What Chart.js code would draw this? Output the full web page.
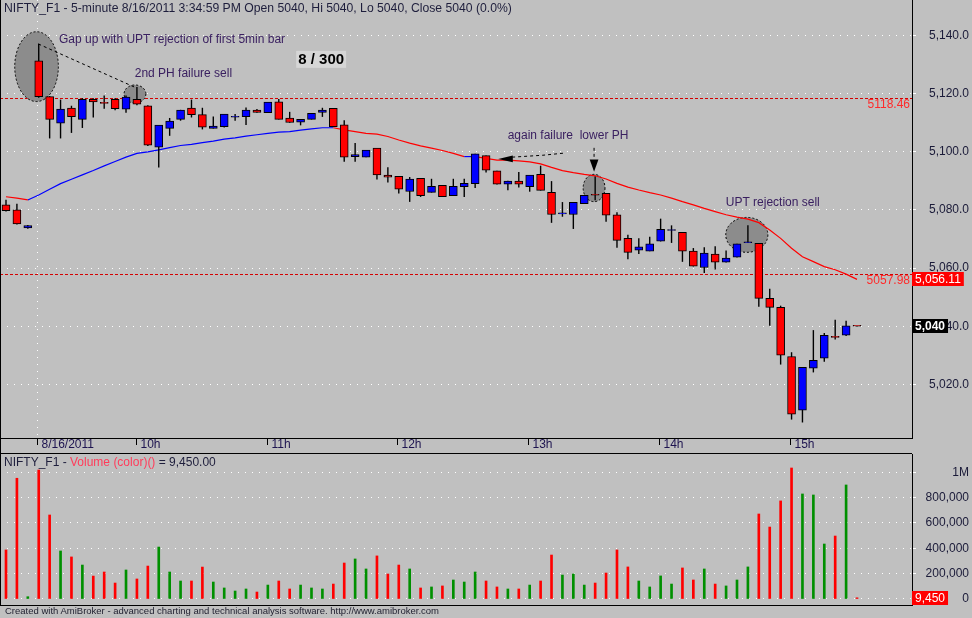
<!DOCTYPE html>
<html>
<head>
<meta charset="utf-8">
<title>NIFTY_F1 5-minute</title>
<script src="https://cdn.jsdelivr.net/npm/chart.js@4.4.1/dist/chart.umd.min.js"></script>
<style>
  html, body { margin:0; padding:0; }
  body { width:972px; height:618px; background:#c0c0c0; position:relative; overflow:hidden;
         font-family:"Liberation Sans", Arial, sans-serif; }
  canvas { position:absolute; left:0; display:block; }
  #priceCanvas { top:0; }
  #volCanvas { top:454px; }
  .txt { position:absolute; white-space:nowrap; font-size:12px; line-height:14px; color:#1e1e3c; }
  #title { left:4px; top:1px; font-size:12.2px; }
  #volTitle { left:4px; top:455px; }
  #volTitle .r { color:#ff3c5a; }
  #footer { left:5px; top:605px; font-size:9.5px; line-height:12px; color:#1e1e2e; }
</style>
</head>
<body>
<canvas id="priceCanvas" width="972" height="454"></canvas>
<canvas id="volCanvas" width="972" height="152"></canvas>
<div id="title" class="txt">NIFTY_F1 - 5-minute 8/16/2011 3:34:59 PM Open 5040, Hi 5040, Lo 5040, Close 5040 (0.0%)</div>
<div id="volTitle" class="txt">NIFTY_F1 - <span class="r">Volume (color)()</span> = 9,450.00</div>
<div id="footer" class="txt">Created with AmiBroker - advanced charting and technical analysis software. http://www.amibroker.com</div>
<script>
// ---------- DATA ----------
const times = ["8/12 15:15","8/12 15:20","8/12 15:25",
  "09:15","09:20","09:25","09:30","09:35","09:40","09:45","09:50","09:55",
  "10:00","10:05","10:10","10:15","10:20","10:25","10:30","10:35","10:40","10:45","10:50","10:55",
  "11:00","11:05","11:10","11:15","11:20","11:25","11:30","11:35","11:40","11:45","11:50","11:55",
  "12:00","12:05","12:10","12:15","12:20","12:25","12:30","12:35","12:40","12:45","12:50","12:55",
  "13:00","13:05","13:10","13:15","13:20","13:25","13:30","13:35","13:40","13:45","13:50","13:55",
  "14:00","14:05","14:10","14:15","14:20","14:25","14:30","14:35","14:40","14:45","14:50","14:55",
  "15:00","15:05","15:10","15:15","15:20","15:25","15:30"];

const opens = [5081.7,5080.0,5073.8,5131.2,5118.9,5109.8,5115.0,5111.1,5118.0,5116.7,
  5118.0,5114.6,5118.0,5115.7,5101.5,5108.0,5111.1,5115.0,5112.7,5108.0,
  5108.6,5111.8,5112.0,5114.3,5113.4,5117.1,5111.5,5110.1,5111.1,5113.5,
  5114.9,5109.2,5098.3,5098.1,5101.2,5091.9,5091.5,5086.3,5090.8,5086.0,
  5088.4,5084.9,5088.0,5089.0,5098.6,5093.4,5088.8,5089.9,5088.0,5092.2,
  5086.0,5078.6,5078.4,5082.1,5085.1,5085.7,5078.3,5070.2,5066.1,5065.8,
  5069.2,5072.9,5072.3,5065.8,5060.2,5064.8,5062.0,5063.7,5068.7,5068.5,
  5049.6,5046.5,5029.6,5011.2,5025.6,5029.0,5036.3,5036.9,5040.0];
const highs = [5083.4,5082.0,5074.7,5137.0,5119.0,5117.8,5115.7,5118.3,5118.3,5119.2,
  5118.3,5119.2,5122.1,5115.9,5109.1,5111.5,5114.3,5117.8,5115.0,5112.0,
  5112.9,5112.9,5115.1,5114.6,5117.0,5118.0,5113.6,5111.1,5113.2,5115.0,
  5114.9,5110.7,5102.9,5100.5,5101.2,5094.6,5091.5,5091.2,5090.8,5090.6,
  5088.4,5090.6,5090.6,5099.2,5098.6,5093.4,5089.9,5092.9,5091.9,5095.1,
  5089.8,5082.6,5082.6,5085.0,5091.4,5085.7,5079.1,5071.4,5070.2,5070.7,
  5076.9,5074.6,5072.3,5066.8,5067.1,5067.4,5066.0,5068.3,5074.6,5068.5,
  5052.8,5047.0,5031.0,5025.9,5038.6,5037.6,5042.2,5041.8,5040.0];
const lows = [5079.5,5075.0,5073.6,5118.6,5104.6,5104.6,5106.5,5108.2,5111.8,5114.8,
  5114.3,5113.4,5116.0,5102.0,5094.6,5105.5,5110.7,5111.8,5107.7,5108.0,
  5108.4,5110.7,5109.2,5113.4,5113.4,5111.1,5110.0,5109.1,5111.1,5112.0,
  5108.6,5096.6,5096.6,5098.1,5090.5,5089.5,5085.7,5082.8,5084.5,5086.0,
  5084.5,5084.9,5084.5,5087.6,5092.9,5088.8,5086.8,5087.7,5086.3,5086.7,
  5075.6,5077.7,5073.5,5082.1,5083.4,5076.0,5067.0,5063.1,5064.9,5065.8,
  5069.2,5068.7,5062.2,5060.6,5058.4,5059.6,5062.0,5063.7,5068.7,5046.8,
  5040.2,5026.9,5008.0,5007.0,5024.2,5027.9,5035.5,5036.7,5040.0];
const closes = [5079.7,5075.2,5074.6,5118.9,5111.1,5114.6,5112.0,5118.0,5117.1,5116.6,
  5114.8,5118.7,5116.3,5102.2,5109.1,5110.5,5114.3,5112.7,5108.4,5108.8,
  5112.9,5111.9,5114.3,5113.5,5117.0,5111.1,5110.0,5111.1,5113.2,5114.3,
  5108.6,5098.1,5099.0,5100.5,5092.0,5091.2,5087.1,5090.6,5084.9,5088.1,
  5084.5,5088.1,5089.1,5099.2,5093.6,5088.8,5089.9,5088.8,5091.9,5086.7,
  5078.4,5078.7,5082.6,5085.0,5085.0,5078.2,5069.5,5065.4,5067.3,5068.3,
  5073.3,5073.0,5065.8,5060.6,5065.1,5062.0,5063.4,5068.3,5068.8,5049.6,
  5046.5,5030.1,5009.8,5025.9,5028.3,5036.9,5036.2,5040.1,5040.0];
const movingAvg = [5084.5,5084.0,5083.4,5085.1,5087.1,5089.0,5090.5,5092.0,5093.5,5095.1,
  5096.6,5098.1,5099.4,5099.9,5100.6,5101.4,5102.1,5102.5,5103.1,5103.6,
  5104.3,5104.7,5105.3,5105.8,5106.3,5106.7,5106.9,5107.4,5107.8,5108.2,
  5108.2,5107.5,5106.9,5106.3,5106.0,5105.2,5104.0,5102.9,5102.0,5101.2,
  5100.4,5099.4,5098.3,5098.3,5097.7,5097.1,5097.1,5096.8,5096.5,5095.8,
  5094.6,5093.5,5092.8,5092.2,5091.7,5090.6,5089.1,5087.8,5086.8,5085.9,
  5085.1,5084.0,5082.8,5081.7,5080.5,5079.4,5078.3,5077.5,5076.8,5075.6,
  5073.1,5070.2,5066.8,5063.9,5062.2,5060.5,5059.4,5057.9,5056.11];
const volumes = [387000,953000,18000,1018000,663000,379000,332000,268000,181000,213000,
  126000,229000,158000,260000,410000,213000,142000,142000,252000,134000,
  87000,63000,79000,55000,110000,142000,79000,110000,87000,79000,
  118000,284000,316000,237000,340000,197000,268000,237000,87000,95000,
  103000,150000,134000,213000,142000,95000,79000,79000,110000,142000,
  347000,189000,197000,110000,126000,205000,387000,253000,142000,95000,
  182000,118000,245000,150000,237000,118000,103000,150000,253000,671000,
  568000,774000,1034000,829000,821000,434000,497000,900000,9450];

const priceTicks = [5020,5040,5060,5080,5100,5120,5140];
const volumeTicks = [0,200000,400000,600000,800000,1000000];
const timeTickLabels = ["8/16/2011","10h","11h","12h","13h","14h","15h"];
const timeTickAt = ["09:15","10:00","11:00","12:00","13:00","14:00","15:00"];
const refLevels = [5118.46, 5057.98];

// annotations (bar index, price)
const notes = [
  {text:"Gap up with UPT rejection of first 5min bar", i:4.86, p:5138.4},
  {text:"2nd PH failure sell", i:11.8, p:5126.7},
  {text:"again failure  lower PH", i:45.98, p:5105.5},
  {text:"UPT rejection sell", i:65.97, p:5082.5}
];
const counterNote = {text:"8 / 300", i:26.6, p:5131.7};
const ellipses = [
  {i:2.8, p:5129.2, ri:2.0, rp:12.0},
  {i:11.82, p:5119.8, ri:1.0, rp:3.1},
  {i:53.9, p:5087.5, ri:1.0, rp:4.7},
  {i:67.9, p:5071.4, ri:1.93, rp:6.0}
];
const dashedPaths = [
  [[2.96,5137.0],[11.82,5122.1]],
  [[51.05,5099.45],[49.2,5098.76],[46.4,5098.1]],
  [[53.9,5101.3],[53.9,5097.2]]
];
const arrowHeads = [
  {tip:[45.12,5097.5], base:[46.45,5097.5], dir:"h", half:1.15},
  {tip:[53.9,5093.1], base:[53.9,5097.3], dir:"v", half:0.4}
];

// ---------- derived ----------
const N = closes.length;
const up = closes.map((c,i) => c > opens[i]);
const RED = "#ff0000", BLUE = "#0000ff", GREEN = "#009000";
const FONT = '"Liberation Sans", Arial, sans-serif';
Chart.defaults.font.family = FONT;
Chart.defaults.font.size = 12;
Chart.defaults.color = "#1a1a38";

const xRange = {min:-0.55, max:83.04};

function line(ctx, x1, y1, x2, y2){ ctx.beginPath(); ctx.moveTo(x1,y1); ctx.lineTo(x2,y2); ctx.stroke(); }
function valueBox(ctx, x, y, text, bg, bold){
  ctx.font = (bold ? "bold " : "") + "12px " + FONT;
  const w = ctx.measureText(text).width + 6;
  ctx.fillStyle = bg;
  ctx.fillRect(x, Math.round(y) - 7, w, 14);
  ctx.fillStyle = "#ffffff";
  ctx.textAlign = "left"; ctx.textBaseline = "middle";
  ctx.fillText(text, x + 3, Math.round(y) + 0.5);
}

const pricePlugin = {
  id: "priceDecor",
  beforeDatasetsDraw(chart){
    const {ctx, chartArea:a, scales:{x, y}} = chart;
    ctx.save();
    ctx.strokeStyle = "#ffffff"; ctx.lineWidth = 1; ctx.setLineDash([1,6]);
    const sx = Math.round(x.getPixelForValue(times.indexOf("09:15") - 0.16)) + 0.5;
    line(ctx, sx, a.top, sx, a.bottom);
    ctx.strokeStyle = "#d40000"; ctx.setLineDash([3,2]);
    refLevels.forEach(v => { const py = Math.round(y.getPixelForValue(v)) + 0.5; line(ctx, a.left, py, a.right, py); });
    ctx.setLineDash([2,2]); ctx.strokeStyle = "#000"; ctx.fillStyle = "#8c8c8c";
    ellipses.forEach(e => {
      const cx = x.getPixelForValue(e.i), cy = y.getPixelForValue(e.p);
      const rx = x.getPixelForValue(e.i + e.ri) - cx, ry = cy - y.getPixelForValue(e.p + e.rp);
      ctx.beginPath(); ctx.ellipse(cx, cy, rx, ry, 0, 0, Math.PI*2); ctx.fill(); ctx.stroke();
    });
    ctx.restore();
  },
  afterDatasetsDraw(chart){
    const {ctx, chartArea:a, scales:{x, y}} = chart;
    ctx.save();
    ctx.strokeStyle = "#000"; ctx.lineWidth = 1; ctx.setLineDash([3,3]);
    dashedPaths.forEach(pts => {
      ctx.beginPath();
      pts.forEach((p,k) => { const px = x.getPixelForValue(p[0]), py = y.getPixelForValue(p[1]); k ? ctx.lineTo(px,py) : ctx.moveTo(px,py); });
      ctx.stroke();
    });
    ctx.setLineDash([]); ctx.fillStyle = "#000";
    arrowHeads.forEach(h => {
      const tx = x.getPixelForValue(h.tip[0]), ty = y.getPixelForValue(h.tip[1]);
      const bx = x.getPixelForValue(h.base[0]), by = y.getPixelForValue(h.base[1]);
      ctx.beginPath(); ctx.moveTo(tx, ty);
      if (h.dir === "h") {
        const d = y.getPixelForValue(h.base[1] - h.half) - by;
        ctx.lineTo(bx, by - d); ctx.lineTo(bx, by + d);
      } else {
        const d = x.getPixelForValue(h.base[0] + h.half) - bx;
        ctx.lineTo(bx - d, by); ctx.lineTo(bx + d, by);
      }
      ctx.closePath(); ctx.fill();
    });
    ctx.font = "12px " + FONT; ctx.fillStyle = "#3a2060";
    ctx.textAlign = "left"; ctx.textBaseline = "middle";
    notes.forEach(n => ctx.fillText(n.text, x.getPixelForValue(n.i), y.getPixelForValue(n.p)));
    ctx.font = "bold 15px " + FONT;
    const cx = x.getPixelForValue(counterNote.i), cy = y.getPixelForValue(counterNote.p);
    const w = ctx.measureText(counterNote.text).width;
    ctx.fillStyle = "#d6d6d6"; ctx.fillRect(cx, cy - 8.5, w + 4, 17);
    ctx.fillStyle = "#000"; ctx.fillText(counterNote.text, cx + 2, cy + 0.5);
    ctx.restore();
  },
  afterDraw(chart){
    const {ctx, chartArea:a, scales:{x, y}} = chart;
    ctx.save();
    ctx.strokeStyle = "#000"; ctx.lineWidth = 1; ctx.setLineDash([]);
    line(ctx, 0, a.bottom + 0.5, a.right, a.bottom + 0.5);
    line(ctx, 0, chart.height - 0.5, a.right, chart.height - 0.5);
    line(ctx, 0.5, 0, 0.5, chart.height);
    ctx.font = "12px " + FONT; ctx.fillStyle = "#1e1450";
    ctx.textAlign = "left"; ctx.textBaseline = "middle";
    timeTickAt.forEach((t,k) => {
      const px = Math.round(x.getPixelForValue(times.indexOf(t) - 0.12)) + 0.5;
      line(ctx, px, a.bottom + 1, px, a.bottom + 7);
      ctx.fillText(timeTickLabels[k], px + 4, a.bottom + 7);
    });
    ctx.fillStyle = "#ff2a2a"; ctx.textAlign = "right";
    refLevels.forEach(v => ctx.fillText(v.toFixed(2), a.right - 2, y.getPixelForValue(v) + 7));
    valueBox(ctx, a.right, y.getPixelForValue(movingAvg[N-1]),
      movingAvg[N-1].toLocaleString("en-US", {minimumFractionDigits:2}), "#ff0000", false);
    valueBox(ctx, a.right, y.getPixelForValue(closes[N-1]),
      closes[N-1].toLocaleString("en-US"), "#000000", true);
    ctx.restore();
  }
};

const volPlugin = {
  id: "volDecor",
  afterDraw(chart){
    const {ctx, chartArea:a, scales:{y}} = chart;
    ctx.save();
    ctx.strokeStyle = "#000"; ctx.lineWidth = 1;
    line(ctx, 0, a.bottom + 0.5, a.right, a.bottom + 0.5);
    line(ctx, 0.5, 0, 0.5, a.bottom);
    valueBox(ctx, a.right, y.getPixelForValue(volumes[N-1]), volumes[N-1].toLocaleString("en-US"), "#ff0000", false);
    ctx.restore();
  }
};

const rightAxis = (min, max, ticks, fmt) => ({
  position: "right", min, max,
  afterFit(s){ s.width = 57; s.paddingTop = 0; s.paddingBottom = 0; },
  afterBuildTicks(s){ s.ticks = ticks.map(v => ({value: v})); },
  ticks: { crossAlign: "far", color: "#1a1a38", font: {size: 12}, callback: fmt },
  grid: { color: "#ffffff", lineWidth: 1, drawTicks: true, tickLength: 4, tickColor: "#ffffff" },
  border: { display: true, color: "#000000", width: 1, dash: [1,6] }
});

const common = {
  responsive: false, animation: false, devicePixelRatio: 1, events: [],
  plugins: { legend: {display: false}, tooltip: {enabled: false} }
};

new Chart(document.getElementById("priceCanvas"), {
  type: "bar",
  data: {
    datasets: [
      { type: "line", label: "EMA", order: 3,
        data: movingAvg.map((v,i) => ({x: i, y: v})),
        borderColor: RED, borderWidth: 1.2, pointRadius: 0, tension: 0,
        segment: { borderColor: c => closes[c.p1DataIndex] > movingAvg[c.p1DataIndex] ? BLUE : RED } },
      { label: "wick", order: 2, grouped: false,
        data: highs.map((h,i) => ({x: i, y: [lows[i], h]})),
        backgroundColor: "#000", borderWidth: 0, barThickness: 1, inflateAmount: 0.2 },
      { label: "body", order: 1, grouped: false,
        data: opens.map((o,i) => ({x: i, y: [o, closes[i]]})),
        backgroundColor: up.map(u => u ? BLUE : RED),
        borderColor: "#000", borderWidth: 1, borderSkipped: false,
        barThickness: 8, minBarLength: 1 }
    ]
  },
  options: Object.assign({}, common, {
    layout: { padding: {left: 0, right: 3, top: 0, bottom: 16} },
    scales: {
      x: { type: "linear", display: false, min: xRange.min, max: xRange.max, offset: false },
      y: rightAxis(5001.6, 5152.1, priceTicks, v => v.toLocaleString("en-US", {minimumFractionDigits:1, maximumFractionDigits:1}))
    }
  }),
  plugins: [pricePlugin]
});

new Chart(document.getElementById("volCanvas"), {
  type: "bar",
  data: {
    datasets: [
      { label: "Volume", grouped: false,
        data: volumes.map((v,i) => ({x: i, y: v})),
        backgroundColor: up.map(u => u ? GREEN : RED),
        borderWidth: 0, barThickness: 2 }
    ]
  },
  options: Object.assign({}, common, {
    layout: { padding: {left: 0, right: 3, top: 0, bottom: 1} },
    scales: {
      x: { type: "linear", display: false, min: xRange.min, max: xRange.max, offset: false },
      y: rightAxis(-47400, 1144400, volumeTicks, v => v === 1000000 ? "1M" : v.toLocaleString("en-US"))
    }
  }),
  plugins: [volPlugin]
});
</script>
</body>
</html>
